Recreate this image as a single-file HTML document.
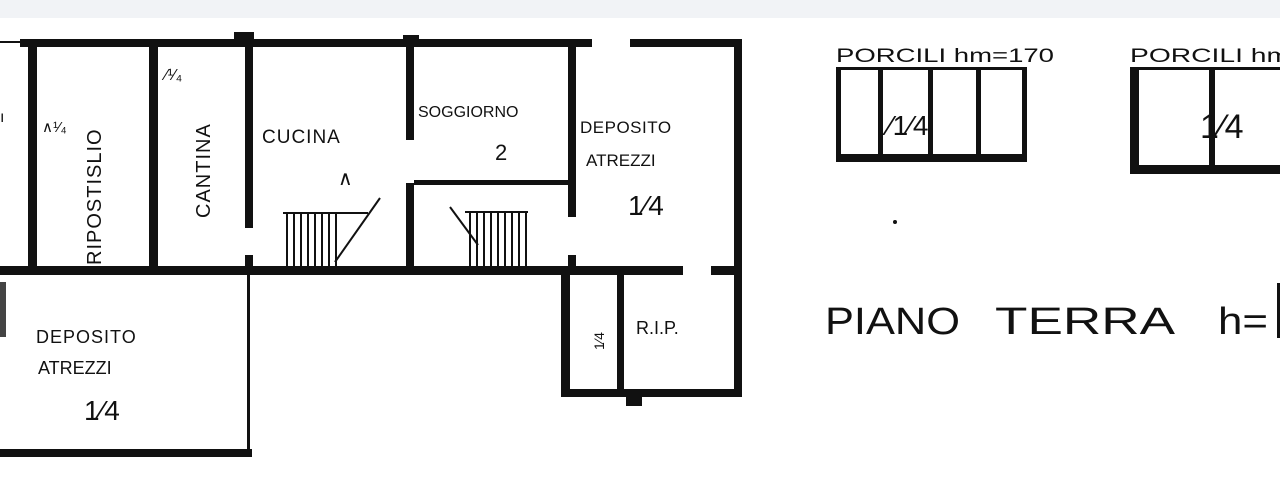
<!DOCTYPE html>
<html><head><meta charset="utf-8"><style>
html,body{margin:0;padding:0;background:#fff;width:1280px;height:499px;overflow:hidden}
svg{display:block}
text{font-family:"Liberation Sans",sans-serif;fill:#111}
</style></head><body>
<svg width="1280" height="499" viewBox="0 0 1280 499">
<rect x="0" y="0" width="1280" height="18" fill="#f1f3f6"/>
<g fill="#111">
<rect x="0" y="41" width="20" height="2"/>
<rect x="20" y="39" width="572" height="8"/>
<rect x="630" y="39" width="112" height="8"/>
<rect x="234" y="32" width="20" height="12"/>
<rect x="403" y="35" width="16" height="12"/>
<rect x="734" y="40" width="8" height="357"/>
<rect x="28" y="40" width="9" height="232"/>
<rect x="149" y="40" width="9" height="232"/>
<rect x="245" y="40" width="8" height="188"/>
<rect x="245" y="255" width="8" height="17"/>
<rect x="406" y="40" width="8" height="100"/>
<rect x="406" y="183" width="8" height="90"/>
<rect x="568" y="45" width="8" height="172"/>
<rect x="568" y="255" width="8" height="15"/>
<rect x="0" y="266" width="683" height="9"/>
<rect x="711" y="266" width="31" height="9"/>
<rect x="414" y="180" width="154" height="5"/>
<rect x="561" y="270" width="9" height="127"/>
<rect x="561" y="389" width="181" height="8"/>
<rect x="617" y="275" width="7" height="115"/>
<rect x="626" y="396" width="16" height="10"/>
<rect x="247" y="275" width="3" height="180"/>
<rect x="0" y="449" width="252" height="8"/>
<rect x="0" y="282" width="6" height="55" fill="#444"/>
</g>
<g stroke="#111" stroke-width="2">
<line x1="283" y1="213" x2="368" y2="213"/>
<line x1="287" y1="213" x2="287" y2="266"/><line x1="294" y1="213" x2="294" y2="266"/><line x1="301" y1="213" x2="301" y2="266"/><line x1="308" y1="213" x2="308" y2="266"/><line x1="315" y1="213" x2="315" y2="266"/><line x1="322" y1="213" x2="322" y2="266"/><line x1="329" y1="213" x2="329" y2="266"/><line x1="336" y1="213" x2="336" y2="266"/>
<line x1="335" y1="262" x2="380" y2="198"/>
<line x1="450" y1="207" x2="478" y2="245"/>
<line x1="465" y1="212" x2="528" y2="212"/>
<line x1="470" y1="212" x2="470" y2="266"/><line x1="477" y1="212" x2="477" y2="266"/><line x1="484" y1="212" x2="484" y2="266"/><line x1="491" y1="212" x2="491" y2="266"/><line x1="498" y1="212" x2="498" y2="266"/><line x1="505" y1="212" x2="505" y2="266"/><line x1="512" y1="212" x2="512" y2="266"/><line x1="519" y1="212" x2="519" y2="266"/><line x1="526" y1="212" x2="526" y2="266"/>
</g>
<text x="0" y="122" font-size="16">ı</text>
<text x="42" y="132" font-size="15">∧¹⁄₄</text>
<text transform="translate(101,265) rotate(-90)" font-size="20" letter-spacing="1">RIPOSTISLIO</text>
<text transform="translate(210,218) rotate(-90)" font-size="20" letter-spacing="1">CANTINA</text>
<text x="165" y="80" font-size="16">⁄¹⁄₄</text>
<text x="262" y="143" font-size="19" letter-spacing="1">CUCINA</text>
<text x="338" y="185" font-size="20">∧</text>
<text x="418" y="117" font-size="16">SOGGIORNO</text>
<text x="495" y="160" font-size="22">2</text>
<text x="580" y="133" font-size="17" letter-spacing="0.5">DEPOSITO</text>
<text x="586" y="166" font-size="17">ATREZZI</text>
<text x="628" y="215" font-size="28">1⁄4</text>
<text x="636" y="334" font-size="18">R.I.P.</text>
<text transform="translate(604,350) rotate(-90)" font-size="14">1⁄4</text>
<text x="36" y="343" font-size="18" letter-spacing="1">DEPOSITO</text>
<text x="38" y="374" font-size="18">ATREZZI</text>
<text x="84" y="420" font-size="28">1⁄4</text>
<text x="836" y="62" font-size="19" textLength="218" lengthAdjust="spacingAndGlyphs">PORCILI hm=170</text>
<text x="1130" y="62" font-size="19" textLength="160" lengthAdjust="spacingAndGlyphs">PORCILI hm</text>
<g fill="#111">
<rect x="836" y="67" width="190" height="3"/>
<rect x="836" y="67" width="5" height="95"/>
<rect x="1022" y="67" width="5" height="95"/>
<rect x="836" y="154" width="191" height="8"/>
<rect x="878" y="67" width="5" height="95"/>
<rect x="928" y="67" width="5" height="95"/>
<rect x="976" y="67" width="5" height="95"/>
<rect x="1130" y="67" width="150" height="3"/>
<rect x="1130" y="67" width="9" height="107"/>
<rect x="1130" y="165" width="150" height="9"/>
<rect x="1209" y="67" width="6" height="107"/>
</g>
<text x="888" y="135" font-size="28">⁄1⁄4</text>
<text x="1200" y="138" font-size="34">1⁄4</text>
<circle cx="895" cy="222" r="2" fill="#111"/>
<text x="825" y="334" font-size="38" textLength="135" lengthAdjust="spacingAndGlyphs">PIANO</text>
<text x="995" y="334" font-size="38" textLength="180" lengthAdjust="spacingAndGlyphs">TERRA</text>
<text x="1218" y="334" font-size="38" textLength="50" lengthAdjust="spacingAndGlyphs">h=</text>
<rect x="1277" y="283" width="3" height="55" fill="#111"/>
</svg>
</body></html>
